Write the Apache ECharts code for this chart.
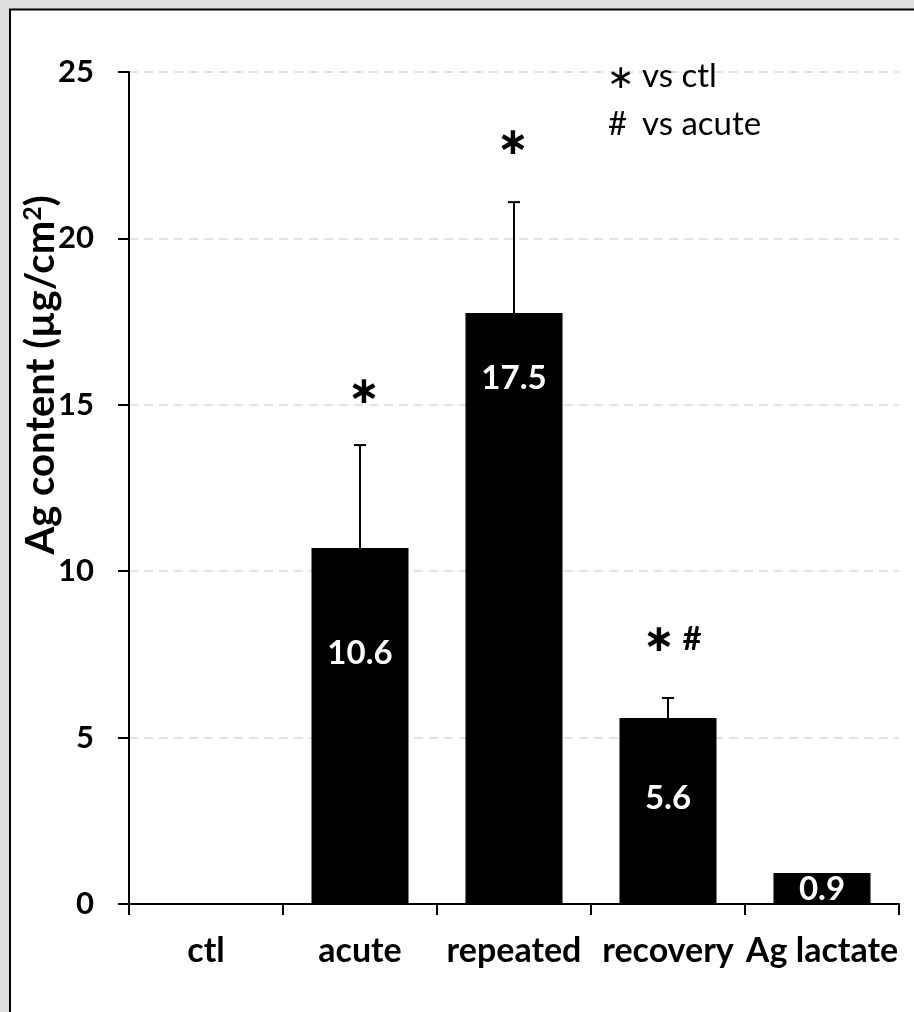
<!DOCTYPE html>
<html>
<head>
<meta charset="utf-8">
<script src="https://cdn.jsdelivr.net/npm/echarts@6/dist/echarts.min.js"></script>
<style>
html,body{margin:0;padding:0;background:#dedede;}
#chart{width:914px;height:1012px;}
</style>
</head>
<body>
<div id="chart"></div>
<script>
// ---- data ----
var categories = ['ctl', 'acute', 'repeated', 'recovery', 'Ag lactate'];
var means = [0, 10.7, 17.76, 5.59, 0.93];
var errors = [0, 3.09, 3.33, 0.6, 0];
var valueLabels = ['', '10.6', '17.5', '5.6', '0.9'];
var sigMarks = [[], ['∗'], ['∗'], ['∗', '#'], []];
var yTicks = [0, 5, 10, 15, 20, 25];

// ---- styling helpers (not data) ----
var labelDist = [0, 89, 49, 64, 0];
var sigDx = [[], [4], [-1], [-9, 24], []];
var sigDy = [0, -52, -58, -57, 0];

var FONT = 'Lato';
var chart = echarts.init(document.getElementById('chart'));

var barData = means.map(function (v, i) {
  return {
    value: v,
    label: {
      show: valueLabels[i] !== '',
      formatter: valueLabels[i],
      position: 'insideTop',
      distance: labelDist[i]
    }
  };
});

var errData = means.map(function (v, i) { return [i, v, v + errors[i]]; });
var sigData = means.map(function (v, i) { return [i, v + errors[i]]; });

var option = {
  backgroundColor: '#dedede',
  animation: false,
  graphic: [
    {
      type: 'rect', z: -100, silent: true,
      shape: { x: 10, y: 9.5, width: 930, height: 1020 },
      style: { fill: '#ffffff', stroke: '#000000', lineWidth: 2 }
    },
    {
      type: 'text', left: 607, top: 63, z: 10,
      style: { text: '∗', fontFamily: 'DejaVu Sans', fontSize: 33, fill: '#000' }
    },
    {
      type: 'text', left: 642, top: 60, z: 10,
      style: { text: 'vs ctl', fontFamily: FONT, fontSize: 33, fill: '#000' }
    },
    {
      type: 'text', left: 608, top: 108, z: 10,
      style: { text: '#', fontFamily: FONT, fontSize: 33, fill: '#000' }
    },
    {
      type: 'text', left: 642, top: 108, z: 10,
      style: { text: 'vs acute', fontFamily: FONT, fontSize: 33, fill: '#000' }
    }
  ],
  grid: { left: 129, right: 15, top: 72, bottom: 108, containLabel: false },
  xAxis: {
    type: 'category',
    data: categories,
    axisLine: { lineStyle: { color: '#000', width: 2 } },
    axisTick: { show: true, inside: false, length: 11, lineStyle: { color: '#000', width: 2 } },
    axisLabel: { color: '#000', fontFamily: FONT, fontWeight: 'bold', fontSize: 34, margin: 30, interval: 0 },
    splitLine: { show: false }
  },
  yAxis: {
    type: 'value',
    min: 0, max: 25, interval: 5,
    name: 'Ag content (µg/cm{sup|2})',
    nameLocation: 'middle',
    nameGap: 66,
    nameMoveOverlap: false,
    nameTextStyle: {
      color: '#000', fontFamily: FONT, fontWeight: 'bold', fontSize: 40,
      padding: [0, 0, 0, 226],
      rich: {
        sup: { fontFamily: FONT, fontWeight: 'bold', fontSize: 25, color: '#000', verticalAlign: 'top', padding: [0, 0, 18, 0] }
      }
    },
    axisLine: { show: true, lineStyle: { color: '#000', width: 2 } },
    axisTick: { show: true, inside: false, length: 11, lineStyle: { color: '#000', width: 2 } },
    axisLabel: {
      color: '#000', fontFamily: FONT, fontWeight: 'bold', fontSize: 31, margin: 35,
      formatter: function (v) { return yTicks.indexOf(v) >= 0 ? String(v) : ''; }
    },
    splitLine: { show: true, lineStyle: { color: '#d9d9d9', type: [9, 6], width: 1.5 } }
  },
  series: [
    {
      type: 'bar',
      data: barData,
      barWidth: '63%',
      itemStyle: { color: '#000' },
      label: { color: '#fff', fontFamily: FONT, fontWeight: 'bold', fontSize: 33 },
      z: 3
    },
    {
      type: 'custom',
      data: errData,
      z: 2,
      renderItem: function (params, api) {
        var i = api.value(0);
        if (api.value(2) <= api.value(1)) return null;
        var p1 = api.coord([i, api.value(1)]);
        var p2 = api.coord([i, api.value(2)]);
        var cap = 6;
        return {
          type: 'group',
          children: [
            { type: 'line', shape: { x1: p1[0], y1: p1[1], x2: p2[0], y2: p2[1] }, style: { stroke: '#000', lineWidth: 2 } },
            { type: 'line', shape: { x1: p2[0] - cap, y1: p2[1], x2: p2[0] + cap, y2: p2[1] }, style: { stroke: '#000', lineWidth: 2 } }
          ]
        };
      }
    },
    {
      type: 'custom',
      data: sigData,
      z: 4,
      renderItem: function (params, api) {
        var i = api.value(0);
        var marks = sigMarks[i];
        if (!marks.length) return null;
        var p = api.coord([i, api.value(1)]);
        return {
          type: 'group',
          children: marks.map(function (m, k) {
            var isStar = m === '∗';
            return {
              type: 'text',
              style: {
                text: m,
                x: p[0] + sigDx[i][k],
                y: p[1] + sigDy[i] + (isStar ? 0 : -2),
                align: 'center',
                verticalAlign: 'middle',
                fontFamily: isStar ? 'DejaVu Sans' : FONT,
                fontWeight: 'bold',
                fontSize: isStar ? 38 : 33,
                fill: '#000'
              }
            };
          })
        };
      }
    }
  ]
};
chart.setOption(option);
</script>
</body>
</html>
